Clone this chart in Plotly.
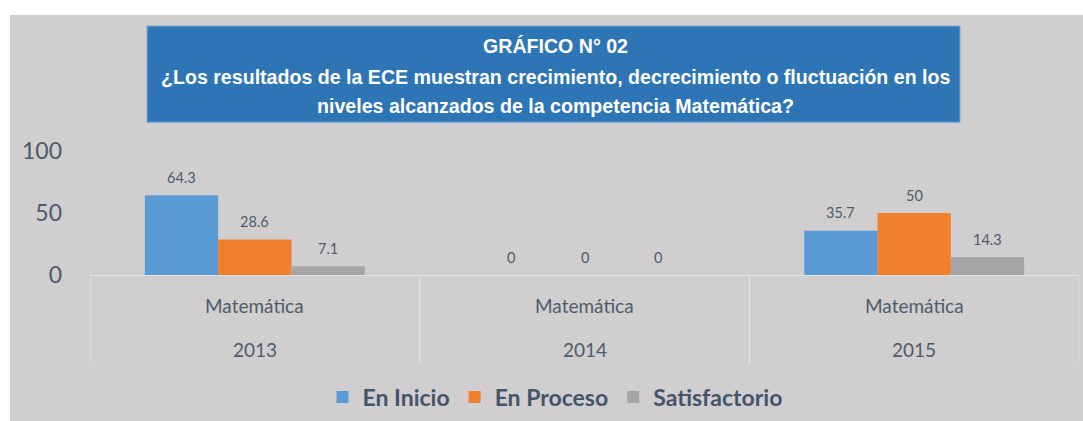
import plotly.graph_objects as go

# ---- data ----
years = ["2013", "2014", "2015"]
subject = ["Matemática", "Matemática", "Matemática"]
series_names = ["En Inicio", "En Proceso", "Satisfactorio"]
en_inicio = [64.3, 0, 35.7]
en_proceso = [28.6, 0, 50]
satisfactorio = [7.1, 0, 14.3]
y_ticks = [0, 50, 100]
title_lines = [
    "GRÁFICO N° 02",
    "¿Los resultados de la ECE muestran crecimiento, decrecimiento o fluctuación en los",
    "niveles alcanzados de la competencia Matemática?",
]

# ---- layout geometry (reference pixels) ----
W, H = 1083, 421
L, R, T, B = 90, 1079, 151, 276


def px_x(p):
    return (p - L) / (R - L)


def px_y(p):
    return (B - p) / (B - T)


colors = ["#5b9bd5", "#f07f2e", "#a5a5a5"]
text_col = "#44546a"
font_main = "Lato"
panel = "#d0cecf"

xs = list(range(len(years)))
series = [en_inicio, en_proceso, satisfactorio]
bargap = 0.333
bw = (1 - bargap) / len(series)

fig = go.Figure()
for k, (name, vals) in enumerate(zip(series_names, series)):
    fig.add_trace(go.Bar(
        x=xs, y=vals, name=name,
        marker=dict(color=colors[k], line=dict(width=0)),
    ))

annotations = []
# data labels
for k, vals in enumerate(series):
    off = (k - (len(series) - 1) / 2) * bw
    for i, v in enumerate(vals):
        annotations.append(dict(
            x=xs[i] + off, y=v, xref="x", yref="y", text=f"{v:g}",
            showarrow=False, yanchor="middle", yshift=18,
            font=dict(family=font_main, size=14.5, color="#4f5b6b"),
        ))
# category labels
for i in xs:
    annotations.append(dict(
        x=i, y=px_y(307), xref="x", yref="paper", text=subject[i],
        showarrow=False, yanchor="middle",
        font=dict(family=font_main, size=19, color="#4f5b6b"),
    ))
    annotations.append(dict(
        x=i, y=px_y(351), xref="x", yref="paper", text=years[i],
        showarrow=False, yanchor="middle",
        font=dict(family=font_main, size=19, color="#4f5b6b"),
    ))
# title lines
for ln, yc in zip(title_lines, [45, 76, 106]):
    annotations.append(dict(
        x=px_x(555), y=px_y(yc), xref="paper", yref="paper", text=f"<b>{ln}</b>",
        showarrow=False, yanchor="middle", xanchor="center",
        font=dict(family="Liberation Sans", size=19.6, color="white"),
    ))

shapes = [
    # white strips around the gray panel (top and left)
    dict(type="rect", xref="paper", yref="paper", layer="below",
         x0=px_x(-5), x1=px_x(W + 5), y0=px_y(14), y1=px_y(-5),
         fillcolor="white", line=dict(width=0)),
    dict(type="rect", xref="paper", yref="paper", layer="below",
         x0=px_x(-5), x1=px_x(10), y0=px_y(H + 5), y1=px_y(-5),
         fillcolor="white", line=dict(width=0)),
    # title box
    dict(type="rect", xref="paper", yref="paper",
         x0=px_x(147), x1=px_x(960), y0=px_y(122), y1=px_y(25),
         fillcolor="#2e75b6", line=dict(color="#7aa7d6", width=1)),
]
for i in range(len(years) + 1):
    shapes.append(dict(
        type="line", xref="x", yref="paper", x0=i - 0.5, x1=i - 0.5,
        y0=0, y1=px_y(365), line=dict(color="#e4e3e4", width=1.2),
    ))

fig.update_layout(
    width=W, height=H,
    margin=dict(l=L, r=W - R, t=T, b=H - B),
    paper_bgcolor=panel, plot_bgcolor="rgba(0,0,0,0)",
    barmode="group", bargap=bargap, bargroupgap=0,
    showlegend=True,
    legend=dict(
        orientation="h", x=px_x(555), xanchor="center", y=px_y(397), yanchor="middle",
        font=dict(family=font_main, size=23, color=text_col, weight="bold"),
        bgcolor="rgba(0,0,0,0)", itemwidth=30, traceorder="normal",
    ),
    xaxis=dict(range=[-0.5, len(years) - 0.5], showticklabels=False, showgrid=False,
               zeroline=False, showline=True, linecolor="#e4e3e4", linewidth=1.2,
               fixedrange=True),
    yaxis=dict(range=[0, 100], tickvals=y_ticks, showgrid=False, zeroline=False,
               showline=False, ticks="", ticklabelstandoff=27, fixedrange=True,
               tickfont=dict(family=font_main, size=23, color="#4f5b6b")),
    annotations=annotations,
    shapes=shapes,
)

fig.write_html(
    "out.html",
    config={"displayModeBar": False},
    post_script="document.body.style.margin='0';document.body.style.overflow='hidden';",
)
